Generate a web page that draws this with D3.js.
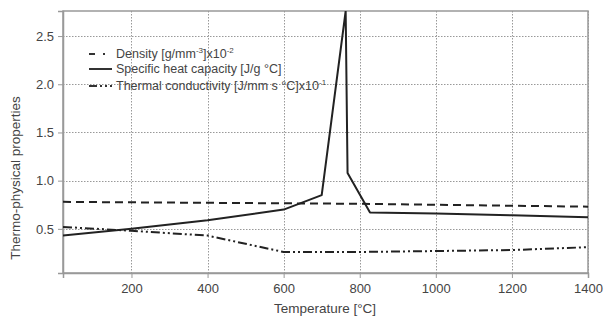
<!DOCTYPE html>
<html><head><meta charset="utf-8">
<script src="https://cdn.jsdelivr.net/npm/d3@7"></script>
<style>body{margin:0;background:#fff}svg{display:block}text{font-family:"Liberation Sans",Arial,sans-serif}</style>
</head><body><svg id="c" width="605" height="323"></svg>
<script>
const xTicks = [200, 400, 600, 800, 1000, 1200, 1400];
const yTicks = [0.5, 1.0, 1.5, 2.0, 2.5];
const densityT = [20, 200, 400, 600, 800, 1000, 1200, 1400];
const densityV = [0.78, 0.775, 0.77, 0.765, 0.76, 0.75, 0.74, 0.73];
const heatT = [20, 200, 400, 600, 700, 763, 768, 827, 1000, 1200, 1400];
const heatV = [0.43, 0.50, 0.59, 0.70, 0.85, 2.76, 1.08, 0.67, 0.66, 0.64, 0.62];
const condT = [20, 200, 400, 600, 800, 1000, 1200, 1400];
const condV = [0.52, 0.48, 0.43, 0.26, 0.26, 0.27, 0.28, 0.31];
const seriesNames = ["Density [g/mm", "Specific heat capacity [J/g °C]", "Thermal conductivity [J/mm s °C]x10"];

const svg = d3.select("#c");
const L = 63, R = 588, T = 11, B = 273;
const x = d3.scaleLinear().domain([20, 1400]).range([L, R]);
const y = d3.scaleLinear().domain([0.042, 2.76]).range([B, T]);

// grid
const g = svg.append("g");
g.selectAll("line.gx").data(xTicks).join("line")
  .attr("x1", d => Math.round(x(d)) + 0.5).attr("x2", d => Math.round(x(d)) + 0.5).attr("y1", T).attr("y2", B)
  .attr("stroke", "#999").attr("stroke-width", 1).attr("stroke-dasharray", "1.5,1.5");
g.selectAll("line.gy").data(yTicks).join("line")
  .attr("y1", d => Math.round(y(d)) + 0.5).attr("y2", d => Math.round(y(d)) + 0.5).attr("x1", L).attr("x2", R)
  .attr("stroke", "#999").attr("stroke-width", 1).attr("stroke-dasharray", "1.5,1.5");

// frame
svg.append("rect").attr("x", L).attr("y", T).attr("width", R - L).attr("height", B - T)
  .attr("fill", "none").attr("stroke", "#999").attr("stroke-width", 1.5);

// axes
const xa = svg.append("g").attr("transform", `translate(0,${B})`)
  .call(d3.axisBottom(x).tickValues(xTicks).tickFormat(d3.format("d")).tickSize(5).tickPadding(6));
const ya = svg.append("g").attr("transform", `translate(${L},0)`)
  .call(d3.axisLeft(y).tickValues(yTicks).tickFormat(d3.format(".1f")).tickSize(5).tickPadding(4));
[xa, ya].forEach(a => {
  a.select(".domain").attr("stroke", "#999").attr("stroke-width", 1.5);
  a.selectAll(".tick line").attr("stroke", "#999");
  a.selectAll("text").attr("fill", "#444").style("font-size", "13px").style("font-family", "Liberation Sans, Arial, sans-serif");
});

// clip
svg.append("clipPath").attr("id", "clip").append("rect").attr("x", L).attr("y", T).attr("width", R - L).attr("height", B - T);

const line = d3.line().x(d => x(d[0])).y(d => y(d[1]));
const plot = svg.append("g").attr("clip-path", "url(#clip)");
const styles = [
  {t: densityT, v: densityV, dash: "8,5", w: 2},
  {t: heatT, v: heatV, dash: null, w: 2},
  {t: condT, v: condV, dash: "9,3,2,3,2,3", w: 2}
];
styles.forEach(s => {
  plot.append("path").datum(s.t.map((t, i) => [t, s.v[i]])).attr("d", line)
    .attr("fill", "none").attr("stroke", "#222").attr("stroke-width", s.w)
    .attr("stroke-linejoin", "round")
    .attr("stroke-dasharray", s.dash);
});

// legend
const legY = [54, 69, 86];
const lg = svg.append("g");
styles.forEach((s, i) => {
  lg.append("line").attr("x1", 89).attr("x2", 112).attr("y1", legY[i]).attr("y2", legY[i])
    .attr("stroke", "#333").attr("stroke-width", 2).attr("stroke-dasharray", i === 0 ? "6,8,2,10" : (i === 2 ? "8,3,2,3,2,3" : null));
});
const lt = lg.selectAll("text.l").data(seriesNames).join("text")
  .attr("x", 116).attr("y", (d, i) => legY[i] + 4)
  .attr("fill", "#444").style("font-size", "12.5px");
lt.each(function(d, i) {
  const t = d3.select(this);
  t.append("tspan").text(d);
  if (i === 0) {
    t.append("tspan").attr("dy", -5).style("font-size", "8px").text("-3");
    t.append("tspan").attr("dy", 5).text("]x10");
    t.append("tspan").attr("dy", -5).style("font-size", "8px").text("-2");
  } else if (i === 2) {
    t.append("tspan").attr("dy", -5).style("font-size", "8px").text("-1");
  }
});

// axis titles
svg.append("text").attr("x", 325).attr("y", 313).attr("text-anchor", "middle")
  .attr("fill", "#444").style("font-size", "13.5px").text("Temperature [°C]");
svg.append("text").attr("transform", "translate(20,178) rotate(-90)").attr("text-anchor", "middle")
  .attr("fill", "#444").style("font-size", "13.5px").text("Thermo-physical properties");
</script></body></html>
